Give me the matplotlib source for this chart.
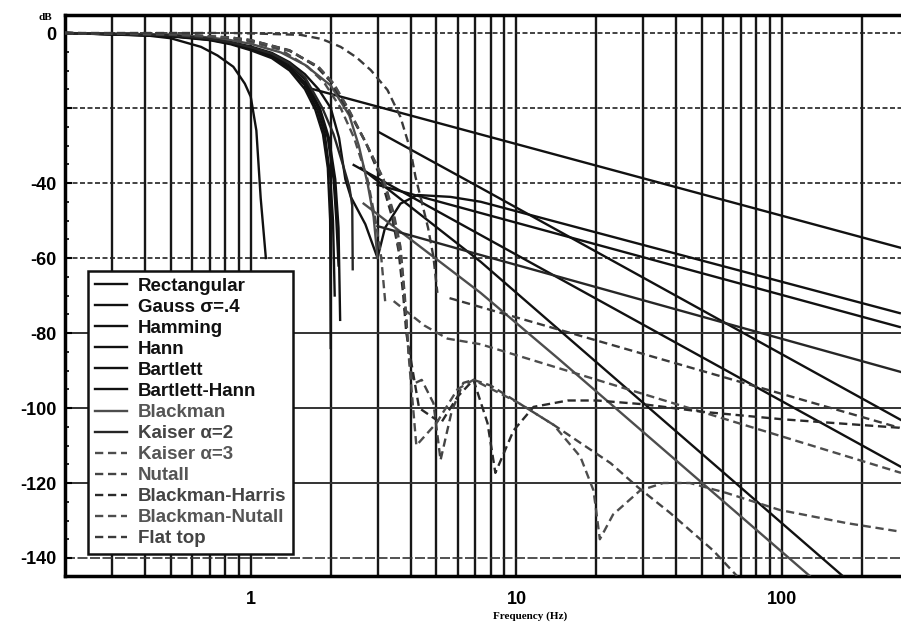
import numpy as np
import matplotlib
matplotlib.use('Agg')
import matplotlib.pyplot as plt
from matplotlib.ticker import FixedLocator, NullFormatter

nan = np.nan

# frequency (Hz) / level (dB); nan splits main lobe and sidelobe envelope
rect_f = [0.2, 0.3, 0.4, 0.5, 0.65, 0.75, 0.86, 0.95, 1.0, 1.05, 1.09, 1.14, nan, 1.6, 280]
rect_db = [0, -0.2, -0.6, -1.4, -3.7, -6, -9, -13.5, -17, -26, -44, -60, nan, -14.4, -57.3]

gauss_f = [0.2, 0.5, 0.7, 0.84, 1.0, 1.2, 1.4, 1.6, 1.8, 2.0, 2.15, 2.27, 2.38, 2.7, 3.0,
           3.2, 3.66, 4.24, 5.64, 7.33, 277]
gauss_db = [0, -0.6, -1.5, -2.4, -3.6, -5.3, -7.8, -11, -15, -20, -28, -39, -43.7, -51, -60,
            -52, -45.5, -43.2, -43.7, -45, -74.7]

hamming_f = [0.2, 0.5, 0.7, 0.84, 1.0, 1.2, 1.4, 1.6, 1.8, 1.95, 2.05, 2.1, 2.14, nan, 3.0, 7.33, 277]
hamming_db = [0, -0.8, -1.7, -2.7, -4.1, -6, -9, -13.3, -20, -28, -39, -50, -62, nan, -40.5, -48, -78.4]

hann_f = [0.2, 0.5, 0.7, 0.84, 1.0, 1.2, 1.4, 1.6, 1.75, 1.87, 1.95, 1.99, 2.0, nan, 2.6, 7.33, 169]
hann_db = [0, -0.9, -1.9, -3.0, -4.6, -6.7, -10, -15, -20.5, -27, -36, -50, -84, nan, -36, -61, -144.8]

bartlett_f = [0.2, 0.5, 0.7, 0.84, 1.0, 1.2, 1.4, 1.6, 1.78, 1.9, 1.99, 2.04, 2.07, nan, 3.03, 7.33, 280]
bartlett_db = [0, -0.8, -1.8, -2.8, -4.3, -6.3, -9.4, -14, -20.5, -27, -38, -50, -70, nan, -26.4, -41.3, -103.2]

barthann_f = [0.2, 0.5, 0.7, 0.84, 1.0, 1.2, 1.4, 1.6, 1.82, 1.97, 2.08, 2.14, 2.17, nan, 2.44, 280]
barthann_db = [0, -0.7, -1.6, -2.6, -3.9, -5.7, -8.4, -12.4, -20, -28, -39, -52, -76.5, nan, -35.2, -115.7]

blackman_f = [0.2, 0.5, 0.7, 0.84, 1.0, 1.3, 1.6, 2.0, 2.35, 2.55, 2.75, 2.9, 3.0,
              nan, 2.66, 3.99, 7.33, 14.3, 127]
blackman_db = [0, -0.4, -1.2, -1.9, -2.9, -5.2, -8.5, -14, -22, -30, -40, -49, -60,
               nan, -45.5, -55, -69.3, -86.7, -144.8]

kaiser2_f = [0.2, 0.5, 0.7, 0.84, 1.0, 1.2, 1.4, 1.6, 1.86, 2.05, 2.22, 2.35, 2.41, 2.42,
             nan, 3.0, 7.33, 280]
kaiser2_db = [0, -0.6, -1.5, -2.5, -3.8, -5.5, -8.1, -11.8, -20, -27, -35, -41, -46, -63,
              nan, -51.5, -59.2, -90.4]

kaiser3_f = [0.2, 0.5, 0.7, 0.84, 1.0, 1.3, 1.64, 1.9, 2.18, 2.45, 2.75, 2.95, 3.1, 3.21,
             nan, 3.45, 4.5, 5.5, 7.33, 280]
kaiser3_db = [0, -0.4, -1.0, -1.6, -2.4, -4.5, -9, -13.5, -20, -28, -39, -50, -60, -72,
              nan, -71.5, -78, -81.5, -83, -117.3]

nutall_f = [0.2, 0.5, 0.84, 1.0, 1.4, 1.79, 2.05, 2.32, 2.7, 3.16, 3.45, 3.66, 3.8, 3.92, 4.05,
            4.17, 4.4, 4.87, 5.18, 5.7, 6.31, 6.89, 8.0, 10.1, 13.8, 17.4, 22.6, 28.5, 37.9, 55, 67.6]
nutall_db = [0, -0.3, -1.3, -2.0, -4.8, -9, -13.5, -20, -29, -39, -48, -57, -70, -85, -92,
             -93.3, -92.5, -98.7, -113.9, -101, -93.3, -92.5, -94, -98.5, -104.5, -109.3, -114.7,
             -121, -128, -138, -144.8]

bharris_f = [0.2, 0.5, 0.84, 1.0, 1.4, 1.77, 2.0, 2.3, 2.7, 3.1, 3.4, 3.6, 3.75, 3.85, 4.3,
             5.2, 6.0, 6.89, 7.78, 8.33, 9.75, 11.6, 15.6, 20.1, 30, 50, 100, 280]
bharris_db = [0, -0.3, -1.2, -1.9, -4.6, -9, -13, -20, -29, -39, -49, -58, -70, -80, -100,
              -104, -97, -92.5, -104, -117.3, -106, -99.7, -98, -98, -99, -101, -103, -105.3]

bnutall_f = [0.2, 0.5, 0.84, 1.0, 1.4, 1.8, 2.05, 2.32, 2.7, 3.16, 3.45, 3.7, 3.85, 3.95, 4.2,
             5.0, 6.0, 6.89, 10.1, 13.8, 17.4, 19.5, 20.6, 23.1, 29.2, 35.7, 45, 62, 98, 175, 280]
bnutall_db = [0, -0.3, -1.2, -1.9, -4.7, -9, -13.5, -20, -29, -39, -49, -62, -76, -88, -110,
              -104, -95, -92.5, -98.5, -104.5, -113, -122, -135, -128.4, -122, -120, -120, -122.7,
              -127.2, -130.7, -133]

flattop_f = [0.2, 0.84, 1.0, 1.54, 1.85, 2.18, 2.5, 2.83, 3.27, 3.66, 3.99, 4.17, 4.4, 4.65,
             4.87, 5.04, nan, 5.6, 277]
flattop_db = [0, 0, -0.1, -0.5, -1.6, -3.7, -6.5, -9.9, -15.2, -22.4, -31.2, -38.4, -45, -52,
              -59.7, -69.3, nan, -70.7, -105.3]

names = ['Rectangular', 'Gauss \u03c3=.4', 'Hamming', 'Hann', 'Bartlett', 'Bartlett-Hann',
         'Blackman', 'Kaiser \u03b1=2', 'Kaiser \u03b1=3', 'Nutall', 'Blackman-Harris',
         'Blackman-Nutall', 'Flat top']
series = [(rect_f, rect_db), (gauss_f, gauss_db), (hamming_f, hamming_db), (hann_f, hann_db),
          (bartlett_f, bartlett_db), (barthann_f, barthann_db), (blackman_f, blackman_db),
          (kaiser2_f, kaiser2_db), (kaiser3_f, kaiser3_db), (nutall_f, nutall_db),
          (bharris_f, bharris_db), (bnutall_f, bnutall_db), (flattop_f, flattop_db)]
dashed = [False]*8 + [True]*5
line_col = ['#111111']*6 + ['#4d4d4d', '#262626', '#4d4d4d', '#444444', '#2a2a2a', '#4d4d4d', '#3a3a3a']
text_col = ['#111111']*6 + ['#555555', '#444444', '#555555', '#555555', '#444444', '#555555', '#444444']

y_ticks = [0, -20, -40, -60, -80, -100, -120, -140]
y_labels = ['0', '', '-40', '-60', '-80', '-100', '-120', '-140']
x_ticks = [1, 10, 100]
x_labels = ['1', '10', '100']

plt.rcParams['font.family'] = ['Liberation Sans', 'DejaVu Sans']

fig = plt.figure(figsize=(9.01, 6.23), dpi=100)
ax = fig.add_axes([65/901, 1 - 576/623, (901 - 65)/901, (576 - 15)/623])
ax.set_xscale('log')
ax.set_xlim(0.2, 280)
ax.set_ylim(-144.8, 4.8)

# grid: every log minor position is drawn as a solid vertical line
vgrid = np.concatenate([np.arange(3, 10)/10, np.arange(1, 10), np.arange(10, 100, 10), [100, 200]])
for v in vgrid:
    ax.axvline(v, color='#161616', lw=1.7, zorder=1)
for yv in y_ticks:
    if yv in (0, -20, -40, -60):
        ax.axhline(yv, color='#222222', lw=1.2, ls=(0, (3, 1.5)), zorder=1)
    elif yv == -140:
        ax.axhline(yv, color='#333333', lw=1.2, ls=(0, (6, 1.5)), zorder=1)
    else:
        ax.axhline(yv, color='#333333', lw=1.4, zorder=1)

for (f, db), nm, ds, c in zip(series, names, dashed, line_col):
    ax.plot(f, db, color=c, lw=1.7, ls=(0, (3.5, 2)) if ds else '-', label=nm, zorder=3)

ax.set_yticks(y_ticks)
ax.set_yticklabels(y_labels, fontsize=13, fontweight='bold')
ax.yaxis.set_minor_locator(FixedLocator(np.arange(-140, 5, 5)))
ax.set_xticks(x_ticks)
ax.set_xticklabels(x_labels, fontsize=13, fontweight='bold')
ax.xaxis.set_minor_formatter(NullFormatter())
ax.tick_params(axis='y', which='major', direction='in', length=5, width=1.5, pad=6)
ax.tick_params(axis='y', which='minor', direction='in', length=3, width=1.2)
ax.tick_params(axis='x', which='both', length=0, pad=11)

for s in ['left', 'top', 'bottom']:
    ax.spines[s].set_linewidth(2.5)
ax.spines['right'].set_visible(False)

leg = ax.legend(loc='lower left', bbox_to_anchor=(23/836, 22/561), borderaxespad=0,
                frameon=True, fancybox=False, labelspacing=0.21,
                handlelength=1.75, handletextpad=0.55, borderpad=0.35,
                prop={'weight': 'bold', 'size': 13.5})
leg.get_frame().set_edgecolor('#111111')
leg.get_frame().set_linewidth(1.8)
leg.get_frame().set_alpha(1)
for t, c in zip(leg.get_texts(), text_col):
    t.set_color(c)
leg.set_zorder(5)

fig.text(45/901, 1 - 17/623, 'dB', fontsize=8, fontweight='bold', family='Liberation Serif',
         ha='center', va='center')
fig.text(530/901, 1 - 616/623, 'Frequency (Hz)', fontsize=8, fontweight='bold',
         family='Liberation Serif', ha='center', va='center')

fig.savefig('out.png', dpi=100)
